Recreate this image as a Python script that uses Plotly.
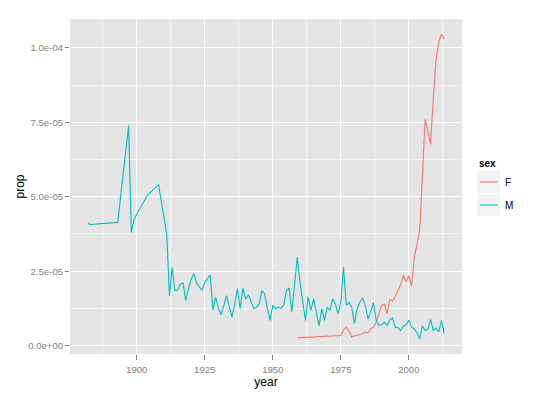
import plotly.graph_objects as go

# ---- data (prop values in units of 1e-6) ----
years_M = [1882, 1883, 1893, 1897, 1898, 1899, 1904, 1908, 1911,
           1912, 1913, 1914, 1915, 1916, 1917, 1918, 1919, 1920, 1921,
           1922, 1923, 1924, 1925, 1926, 1927, 1928, 1929, 1930, 1931,
           1932, 1933, 1934, 1935, 1936, 1937, 1938, 1939, 1940, 1941,
           1942, 1943, 1944, 1945, 1946, 1947, 1948, 1949, 1950, 1951,
           1952, 1953, 1954, 1955, 1956, 1957, 1958, 1959, 1960, 1961,
           1962, 1963, 1964, 1965, 1966, 1967, 1968, 1969, 1970, 1971,
           1972, 1973, 1974, 1975, 1976, 1977, 1978, 1979, 1980, 1981,
           1982, 1983, 1984, 1985, 1986, 1987, 1988, 1989, 1990, 1991,
           1992, 1993, 1994, 1995, 1996, 1997, 1998, 1999, 2000, 2001,
           2002, 2003, 2004, 2005, 2006, 2007, 2008, 2009, 2010, 2011,
           2012, 2013]
prop_M_e6 = [41.0, 40.7, 41.4, 73.9, 38.0, 42.5, 50.6, 54.1, 37.5,
             16.8, 26.3, 18.5, 18.5, 20.7, 21.0, 15.2, 19.0, 22.4, 24.1,
             21.0, 19.6, 18.7, 21.3, 22.5, 23.7, 12.0, 16.3, 12.5, 10.4,
             13.5, 16.8, 13.0, 9.6, 14.0, 19.1, 12.4, 19.3, 15.7, 17.1,
             15.0, 12.4, 12.9, 14.0, 18.5, 17.4, 12.5, 8.5, 13.5, 12.4,
             12.9, 12.5, 13.5, 18.5, 19.3, 11.3, 20.5, 29.7, 21.3, 14.0,
             8.5, 16.3, 11.8, 15.7, 10.7, 6.6, 12.4, 8.5, 12.9, 11.8,
             15.7, 14.0, 10.7, 14.6, 26.3, 13.5, 14.6, 12.9, 7.4, 12.4,
             14.6, 16.0, 13.5, 9.0, 11.5, 14.4, 8.5, 6.8, 7.0, 7.9,
             6.8, 8.7, 9.3, 6.2, 6.0, 5.1, 6.6, 7.0, 8.5, 6.2,
             5.7, 4.3, 2.3, 6.6, 5.1, 5.5, 8.7, 5.1, 5.9, 4.6,
             8.5, 4.0]

years_F = [1959, 1975, 1976, 1977, 1978, 1979, 1980, 1981, 1982, 1983,
           1984, 1985, 1986, 1987, 1988, 1989, 1990, 1991, 1992, 1993,
           1994, 1995, 1996, 1997, 1998, 1999, 2000, 2001, 2002, 2003,
           2004, 2005, 2006, 2007, 2008, 2009, 2010, 2011, 2012, 2013]
prop_F_e6 = [2.6, 3.4, 5.2, 6.1, 5.0, 2.9, 3.2, 3.4, 3.7, 4.0,
             4.6, 4.3, 5.7, 6.2, 8.0, 11.0, 13.5, 14.0, 10.7, 15.5,
             15.0, 16.5, 18.5, 20.5, 23.7, 21.5, 23.5, 20.0, 29.5, 34.0,
             38.6, 57.0, 76.0, 72.0, 67.6, 83.0, 96.0, 102.0, 104.6, 103.0]

series_names = ["F", "M"]
legend_title = "sex"
x_ticks = [1900, 1925, 1950, 1975, 2000]
y_tick_vals = [0.0, 2.5e-05, 5.0e-05, 7.5e-05, 1.0e-04]
y_tick_text = ["0.0e+00", "2.5e-05", "5.0e-05", "7.5e-05", "1.0e-04"]

prop_M = [v * 1e-6 for v in prop_M_e6]
prop_F = [v * 1e-6 for v in prop_F_e6]

FONT = "Liberation Sans, Arial, Helvetica, sans-serif"
colors = {"F": "#F8766D", "M": "#00BFC4"}

W, H = 547, 397
ML, MR, MT, MB = 70, 85, 19, 43
PW, PH = W - ML - MR, H - MT - MB


def px_x(p):
    return (p - ML) / PW


def px_y(p):
    return (H - MB - p) / PH


fig = go.Figure()
fig.add_trace(go.Scatter(x=years_F, y=prop_F, mode="lines", name=series_names[0],
                         showlegend=False,
                         line=dict(color=colors["F"], width=1.1)))
fig.add_trace(go.Scatter(x=years_M, y=prop_M, mode="lines", name=series_names[1],
                         showlegend=False,
                         line=dict(color=colors["M"], width=1.1)))

all_x = years_M + years_F
all_y = prop_M + prop_F
xr = max(all_x) - min(all_x)
yr = max(all_y) - min(all_y)

# ggplot-style legend: grey key boxes, short key lines, labels
shapes = []
annotations = [dict(text="<b>%s</b>" % legend_title, xref="paper", yref="paper",
                    x=px_x(476.5), y=px_y(163), xanchor="left", yanchor="middle",
                    showarrow=False, font=dict(size=10, color="black"))]
key_top = 171
key_h = 23
for i, name in enumerate(series_names):
    top = key_top + i * key_h
    mid = top + 11
    shapes.append(dict(type="rect", xref="paper", yref="paper",
                       x0=px_x(477), x1=px_x(500), y0=px_y(top + 22), y1=px_y(top),
                       fillcolor="#F2F2F2", line=dict(width=0), layer="below"))
    shapes.append(dict(type="line", xref="paper", yref="paper",
                       x0=px_x(480), x1=px_x(497.5), y0=px_y(mid), y1=px_y(mid),
                       line=dict(color=colors[name], width=1.1)))
    annotations.append(dict(text=name, xref="paper", yref="paper",
                            x=px_x(502.5), y=px_y(mid), xanchor="left", yanchor="middle",
                            showarrow=False, font=dict(size=10, color="black")))

fig.update_layout(
    width=W, height=H,
    margin=dict(l=ML, r=MR, t=MT, b=MB),
    paper_bgcolor="white",
    plot_bgcolor="#E5E5E5",
    font=dict(family=FONT, size=12, color="black"),
    shapes=shapes,
    annotations=annotations,
    showlegend=False,
    xaxis=dict(
        range=[min(all_x) - 0.05 * xr, max(all_x) + 0.05 * xr],
        tickvals=x_ticks,
        ticks="outside", ticklen=5, tickcolor="#7F7F7F", tickwidth=1,
        tickfont=dict(size=9.6, color="#7F7F7F"),
        ticklabelstandoff=1,
        showgrid=True, gridcolor="white", gridwidth=1,
        minor=dict(dtick=12.5, tick0=1887.5, showgrid=True, gridcolor="#F2F2F2", gridwidth=0.5),
        zeroline=False, showline=False,
        title=dict(text="year", font=dict(size=12), standoff=0),
    ),
    yaxis=dict(
        range=[min(all_y) - 0.05 * yr, max(all_y) + 0.05 * yr],
        tickvals=y_tick_vals, ticktext=y_tick_text,
        ticks="outside", ticklen=4, tickcolor="#7F7F7F", tickwidth=1,
        tickfont=dict(size=9.6, color="#7F7F7F"),
        showgrid=True, gridcolor="white", gridwidth=1,
        minor=dict(dtick=1.25e-05, tick0=1.25e-05, showgrid=True, gridcolor="#F2F2F2", gridwidth=0.5),
        zeroline=False, showline=False,
        title=dict(text="prop", font=dict(size=12), standoff=0),
    ),
)

fig.write_html("out.html", config={"displayModeBar": False},
               post_script="document.body.style.margin='0px';")
